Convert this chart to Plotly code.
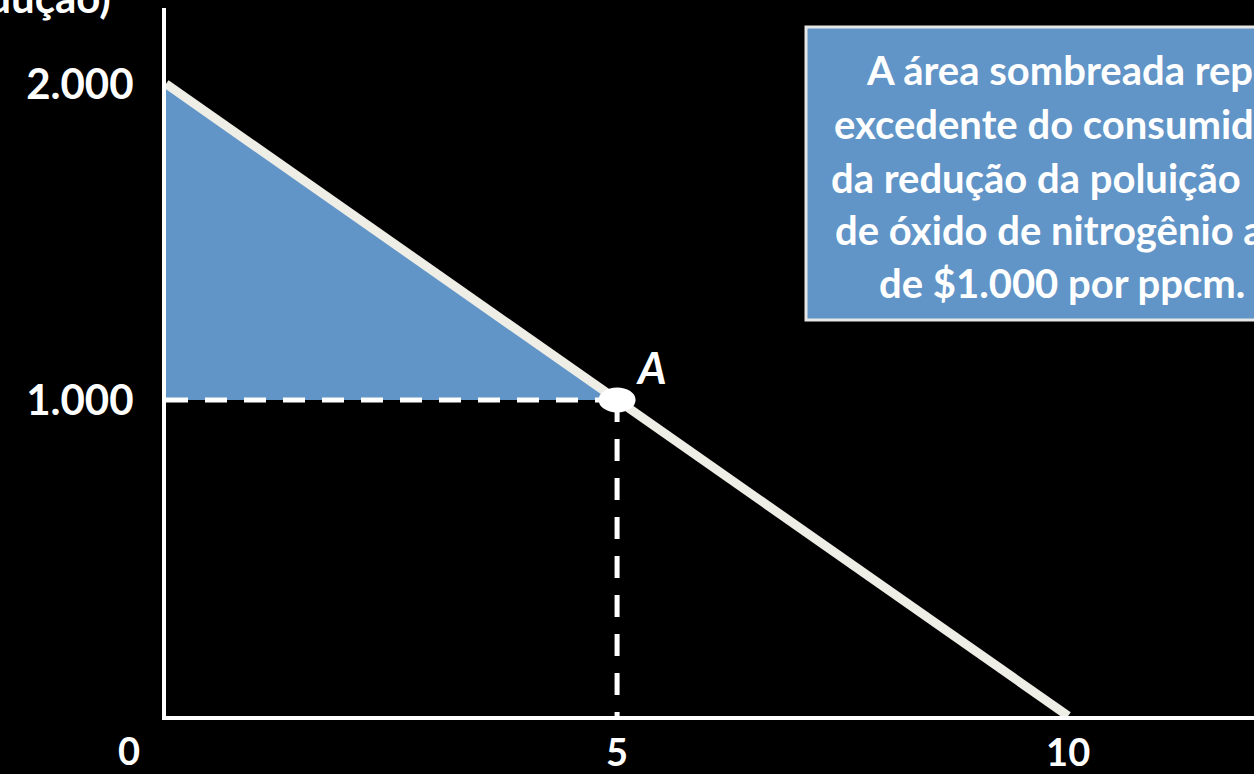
import plotly.graph_objects as go

# ---- data ----
demand_q = [0, 10]
demand_p = [2000, 0]
point_q = 5
point_p = 1000
point_label = "A"
x_ticks = [5, 10]
x_ticktext = ["5", "10"]
origin_label = "0"
y_ticks = [1000, 2000]
y_ticktext = ["1.000", "2.000"]
surplus_q = [0, point_q, 0]
surplus_p = [demand_p[0], point_p, point_p]
axis_title = "Preço (dólares por unidade de redução)"
box_lines = [
    "A área sombreada representa o",
    "excedente do consumidor",
    "da redução da poluição",
    "de óxido de nitrogênio a um preço",
    "de $1.000 por ppcm.",
]

# ---- styling / layout ----
W, H = 1254, 774
L, R, T, B = 166, 0, 8, 58
XMAX = 12.06
YMAX = 2240
BLUE = "#6195C8"
LINE = "#EEEEE6"
FONT = "Lato"

pw = W - L - R
ph = H - T - B


def px_x(px):
    return (px - L) / pw


def px_y(py):
    return (H - B - py) / ph


fig = go.Figure()

fig.add_trace(go.Scatter(
    x=surplus_q, y=surplus_p, mode="lines", fill="toself",
    fillcolor=BLUE, line=dict(width=0, color=BLUE), hoverinfo="skip"))

fig.add_trace(go.Scatter(
    x=[0, point_q], y=[point_p, point_p], mode="lines",
    line=dict(color="white", width=5, dash="22px,17px"), hoverinfo="skip"))
fig.add_trace(go.Scatter(
    x=[point_q, point_q], y=[point_p, 0], mode="lines",
    line=dict(color="white", width=5, dash="22px,17px"), hoverinfo="skip"))

fig.add_trace(go.Scatter(
    x=demand_q, y=demand_p, mode="lines",
    line=dict(color=LINE, width=9), hoverinfo="skip"))

# point A as an ellipse anchored at the data point
fig.add_shape(type="circle", xref="x", yref="y",
              xsizemode="pixel", ysizemode="pixel",
              xanchor=point_q, yanchor=point_p,
              x0=-18.5, x1=18.5, y0=-12.5, y1=12.5,
              fillcolor="white", line=dict(width=0), layer="above")

fig.add_annotation(x=point_q, y=point_p, xref="x", yref="y",
                   text="<i>" + point_label + "</i>", showarrow=False,
                   xshift=34, yshift=33,
                   font=dict(family=FONT, size=44, color="white", weight="bold"))

fig.add_annotation(x=0, y=0, xref="x", yref="y", text=origin_label,
                   showarrow=False, xshift=-37, yshift=-34, borderpad=0,
                   font=dict(family=FONT, size=38, color="white", weight="bold"))

fig.add_annotation(x=px_x(113), y=px_y(24), xref="paper", yref="paper",
                   xanchor="right", yanchor="bottom", text=axis_title,
                   showarrow=False,
                   font=dict(family=FONT, size=42, color="white", weight="bold"))

# text box
fig.add_shape(type="rect", xref="paper", yref="paper",
              x0=px_x(806), x1=px_x(1400), y0=px_y(320), y1=px_y(27),
              fillcolor=BLUE, line=dict(color="#E6E6E6", width=3), layer="above")

starts = [864, 832, 829, 833, 877]
ys = [70, 124, 178, 230, 283]
for txt, sx, sy in zip(box_lines, starts, ys):
    fig.add_annotation(x=px_x(sx), y=px_y(sy), xref="paper", yref="paper",
                       xanchor="left", yanchor="middle", text=txt,
                       showarrow=False,
                       font=dict(family=FONT, size=40, color="white", weight="bold"))

y_tick_font = dict(family=FONT, size=42, color="white", weight="bold")
x_tick_font = dict(family=FONT, size=38, color="white", weight="bold")
fig.update_layout(
    width=W, height=H, autosize=False,
    margin=dict(l=L, r=R, t=T, b=B, pad=0),
    paper_bgcolor="black", plot_bgcolor="black",
    showlegend=False,
    xaxis=dict(range=[0, XMAX], showgrid=False, zeroline=False,
               showline=True, linecolor="white", linewidth=4,
               tickvals=x_ticks, ticktext=x_ticktext, ticks="",
               ticklabelstandoff=0, automargin=False,
               tickfont=x_tick_font, fixedrange=True),
    yaxis=dict(range=[0, YMAX], showgrid=False, zeroline=False,
               showline=True, linecolor="white", linewidth=4,
               tickvals=y_ticks, ticktext=y_ticktext, ticks="",
               ticklabelstandoff=20, automargin=False,
               tickfont=y_tick_font, fixedrange=True),
)

fig.write_html("out.html", config={"displayModeBar": False},
               post_script="document.body.style.margin='0';document.body.style.overflow='hidden';")
